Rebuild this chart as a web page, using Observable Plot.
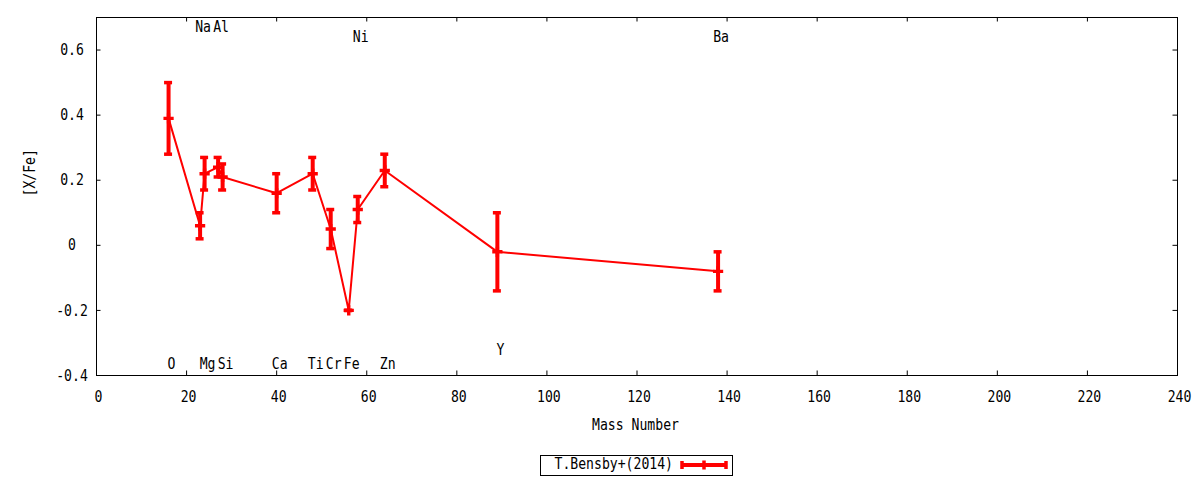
<!DOCTYPE html>
<html><head><meta charset="utf-8">
<script src="https://cdn.jsdelivr.net/npm/d3@7"></script>
<script src="https://cdn.jsdelivr.net/npm/@observablehq/plot@0.6"></script>
<style>
body{margin:0;background:#fff;}
svg text{font-family:"DejaVu Sans Mono",monospace;}
#chart svg{display:block;}
</style></head><body><div id="chart"></div><div id="legend"></div>
<script>
const elements = ["O","Na","Mg","Al","Si","Ca","Ti","Cr","Fe","Ni","Zn","Y","Ba"];
const massNumbers = [16,23,24,27,28,40,48,52,56,58,64,89,138];
const xFe = [0.39,0.06,0.22,0.24,0.21,0.16,0.22,0.05,-0.20,0.11,0.23,-0.02,-0.08];
const xFeErr = [0.11,0.04,0.05,0.03,0.04,0.06,0.05,0.06,0.00,0.04,0.05,0.12,0.06];
const labelY = [-0.365,0.67,-0.365,0.67,-0.365,-0.365,-0.365,-0.365,-0.365,0.64,-0.365,-0.32,0.64];
const xTicks = [0,20,40,60,80,100,120,140,160,180,200,220,240];
const yTicks = [-0.4,-0.2,0,0.2,0.4,0.6];
const seriesName = "T.Bensby+(2014)";
const xTitle = "Mass Number";
const yTitle = "[X/Fe]";

const W = 1200, H = 445, mL = 96, mR = 23, mT = 17, mB = 70;
const pw = W - mL - mR, ph = H - mT - mB;
const red = "#ff0000";
const tick = 4.5;
const data = elements.map((el, i) => ({el, mass: massNumbers[i], v: xFe[i], e: xFeErr[i], ly: labelY[i]}));

const plot = Plot.plot({
  width: W, height: H, marginLeft: mL, marginRight: mR, marginTop: mT, marginBottom: mB,
  style: {fontFamily: "DejaVu Sans Mono", fontSize: "16px", background: "white", color: "black", overflow: "visible"},
  x: {domain: [0, 240], axis: null},
  y: {domain: [-0.4, 0.7], axis: null},
  marks: [
    Plot.ruleX(xTicks, {x: d => d, insetTop: ph - tick, stroke: "black"}),
    Plot.ruleX(xTicks, {x: d => d, insetBottom: ph - tick, stroke: "black"}),
    Plot.ruleY(yTicks, {y: d => d, insetRight: pw - tick, stroke: "black"}),
    Plot.ruleY(yTicks, {y: d => d, insetLeft: pw - tick, stroke: "black"}),
    Plot.frame({stroke: "black", strokeWidth: 1}),
    Plot.text(xTicks, {x: d => d, text: d => String(d), frameAnchor: "bottom", dy: 21, dx: 2, lineAnchor: "middle", fill: "black"}),
    Plot.text(yTicks, {y: d => d, text: d => d === 0 ? "0" : d.toFixed(1), frameAnchor: "left", dx: -24.5, textAnchor: "middle", lineAnchor: "middle", fill: "black"}),
    Plot.text([xTitle], {text: d => d, frameAnchor: "bottom", dy: 49, dx: -1.5, lineAnchor: "middle", fill: "black"}),
    Plot.text([yTitle], {text: d => d, frameAnchor: "left", dx: -67, rotate: -90, lineAnchor: "middle", fill: "black"}),
    Plot.text(data, {x: "mass", y: "ly", text: "el", dx: 3, lineAnchor: "middle", fill: "black"}),
    Plot.line(data, {x: "mass", y: "v", stroke: red, strokeWidth: 2}),
    Plot.ruleX(data, {x: "mass", y1: d => d.v - d.e, y2: d => d.v + d.e, stroke: red, strokeWidth: 4}),
    Plot.ruleY(data, {y: d => d.v + d.e, x1: "mass", x2: "mass", insetLeft: -4, insetRight: -4, stroke: red, strokeWidth: 3.5}),
    Plot.ruleY(data, {y: d => d.v - d.e, x1: "mass", x2: "mass", insetLeft: -4, insetRight: -4, stroke: red, strokeWidth: 3.5}),
    Plot.dot(data, {x: "mass", y: "v", symbol: "cross", r: 4.3, fill: red, stroke: null})
  ]
});
document.getElementById("chart").appendChild(plot);

// legend below the chart
const lg = d3.select("#legend").append("svg").attr("width", W).attr("height", 35).style("display", "block");
lg.append("rect").attr("x", 540.5).attr("y", 10.5).attr("width", 192).attr("height", 20)
  .attr("fill", "none").attr("stroke", "black");
lg.append("text").attr("x", 673).attr("y", 19).attr("dy", "0.32em").attr("text-anchor", "end")
  .attr("font-size", 16).attr("fill", "black").text(seriesName);
lg.append("line").attr("x1", 682).attr("x2", 726).attr("y1", 20).attr("y2", 20).attr("stroke", red).attr("stroke-width", 4);
[682, 726].forEach(x => lg.append("line").attr("x1", x).attr("x2", x).attr("y1", 16).attr("y2", 24).attr("stroke", red).attr("stroke-width", 3.5));
lg.append("line").attr("x1", 704).attr("x2", 704).attr("y1", 15.5).attr("y2", 24.5).attr("stroke", red).attr("stroke-width", 3.5);

// condense the monospace text horizontally to match the reference glyph width
document.querySelectorAll("svg text").forEach(t => {
  const L = t.getComputedTextLength();
  if (L > 0) {
    t.setAttribute("textLength", (L * 0.82).toFixed(2));
    t.setAttribute("lengthAdjust", "spacingAndGlyphs");
  }
});
</script></body></html>
